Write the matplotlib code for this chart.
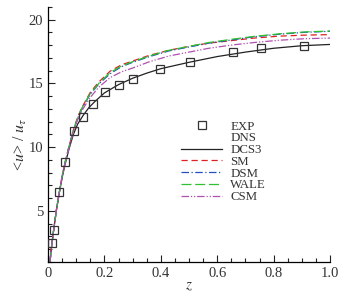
import matplotlib
matplotlib.use("Agg")
import matplotlib.pyplot as plt
from matplotlib.ticker import MultipleLocator

plt.rcParams['font.family'] = ['Liberation Serif', 'DejaVu Serif']
plt.rcParams['mathtext.fontset'] = 'stix'

# Experimental data
exp_z = [0.015, 0.020, 0.040, 0.061, 0.092, 0.125, 0.160, 0.201, 0.252, 0.300, 0.397, 0.502, 0.657, 0.754, 0.908]
exp_u = [2.5, 3.5, 6.45, 8.84, 11.23, 12.35, 13.4, 14.3, 14.85, 15.35, 16.1, 16.65, 17.43, 17.8, 17.95]

# DCS3
dcs3_z = [0.007, 0.012, 0.020, 0.030, 0.040, 0.050, 0.060, 0.075, 0.090, 0.105, 0.125, 0.145, 0.165, 0.20, 0.25, 0.30, 0.35, 0.40, 0.50, 0.60, 0.70, 0.80, 0.90, 1.00]
dcs3_u = [1.0, 2.1, 3.5, 5.1, 6.4, 7.6, 8.6, 9.9, 11.0, 11.8, 12.5, 13.1, 13.55, 14.25, 14.9, 15.4, 15.8, 16.15, 16.65, 17.1, 17.45, 17.75, 17.95, 18.05]

# LES models
les_z = [0.007, 0.012, 0.020, 0.030, 0.040, 0.050, 0.060, 0.075, 0.090, 0.105, 0.120, 0.135, 0.150, 0.18, 0.22, 0.26, 0.30, 0.36, 0.43, 0.50, 0.57, 0.65, 0.73, 0.82, 0.91, 1.00]
sm_u   = [1.0, 2.1, 3.5, 5.1, 6.45, 7.7, 8.75, 10.1, 11.35, 12.35, 13.1, 13.7, 14.3, 15.1, 15.95, 16.45, 16.75, 17.2, 17.6, 17.9, 18.15, 18.35, 18.55, 18.7, 18.78, 18.82]
dsm_u  = [1.0, 2.1, 3.5, 5.1, 6.45, 7.7, 8.75, 10.1, 11.3, 12.25, 13.0, 13.6, 14.15, 14.95, 15.75, 16.3, 16.65, 17.1, 17.55, 17.85, 18.15, 18.4, 18.65, 18.85, 19.0, 19.08]
wale_u = [1.0, 2.1, 3.5, 5.1, 6.45, 7.7, 8.75, 10.1, 11.3, 12.3, 13.05, 13.65, 14.2, 15.0, 15.85, 16.35, 16.7, 17.15, 17.6, 17.9, 18.2, 18.45, 18.68, 18.88, 19.03, 19.1]
csm_u  = [1.0, 2.1, 3.5, 5.1, 6.45, 7.7, 8.7, 10.0, 11.2, 12.15, 12.85, 13.4, 13.9, 14.7, 15.45, 15.9, 16.2, 16.7, 17.15, 17.45, 17.75, 18.0, 18.2, 18.38, 18.5, 18.55]

fig = plt.figure(figsize=(3.53, 2.96), dpi=100)
ax = fig.add_axes([0.136, 0.115, 0.799, 0.862])

ax.plot(exp_z, exp_u, linestyle='none', marker='s', markersize=5.5,
        markerfacecolor='none', markeredgecolor='#333333', markeredgewidth=0.9, label='EXP', zorder=5)
ax.plot([], [], linestyle='none', label='DNS')
ax.plot(dcs3_z, dcs3_u, color='#222222', lw=0.9, label='DCS3')
ax.plot(les_z, sm_u, color='#e02020', lw=0.9, linestyle=(0, (5, 3)), label='SM')
ax.plot(les_z, dsm_u, color='#2050c0', lw=0.9, linestyle=(0, (6, 2, 1, 2)), label='DSM')
ax.plot(les_z, wale_u, color='#30c030', lw=0.9, linestyle=(0, (8, 3)), label='WALE')
ax.plot(les_z, csm_u, color='#b050b0', lw=0.9, linestyle=(0, (6, 1.5, 1, 1.5, 1, 1.5)), label='CSM')

ax.set_xlim(0, 1.0)
ax.set_ylim(1, 21)
ax.xaxis.set_major_locator(MultipleLocator(0.2))
ax.xaxis.set_minor_locator(MultipleLocator(0.05))
ax.yaxis.set_major_locator(MultipleLocator(5))
ax.yaxis.set_minor_locator(MultipleLocator(1))
ax.set_xticks([0, 0.2, 0.4, 0.6, 0.8, 1.0])
ax.set_xticklabels(['0', '0.2', '0.4', '0.6', '0.8', '1.0'])
ax.tick_params(which='both', direction='in', labelsize=10.5, colors='#222222', labelcolor='#333333')
ax.tick_params(which='major', length=5, width=0.8)
ax.tick_params(which='minor', length=3, width=0.8)
ax.spines['top'].set_visible(False)
ax.spines['right'].set_visible(False)
ax.spines['left'].set_linewidth(0.9)
ax.spines['bottom'].set_linewidth(0.9)

ax.set_xlabel(r'$z$', fontsize=11, color='#333333', labelpad=0)
ax.set_ylabel(r'<$u$> / $u_\tau$', fontsize=11.5, color='#333333')
ax.yaxis.set_label_coords(-0.066, 0.46)

leg = ax.legend(loc='upper left', bbox_to_anchor=(0.44, 0.59), frameon=False, fontsize=9.3,
                handlelength=3.2, handletextpad=0.6, labelspacing=-0.02, borderpad=0.2)
for t in leg.get_texts():
    t.set_color('#333333')

fig.savefig('out.png', dpi=100)
